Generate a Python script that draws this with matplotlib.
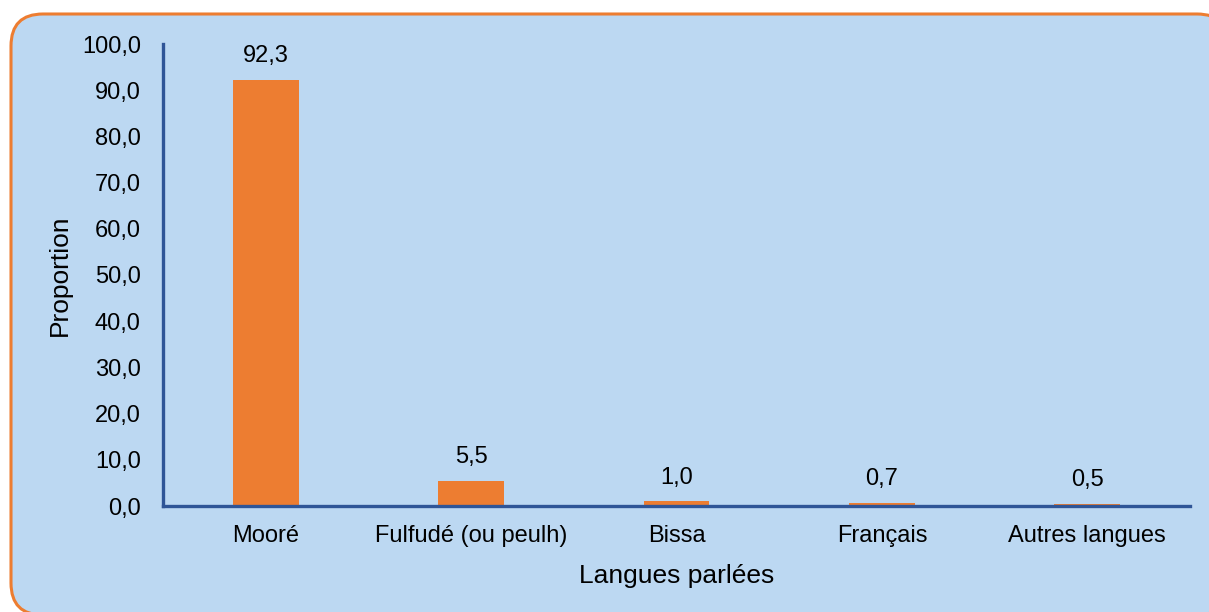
import matplotlib.pyplot as plt
from matplotlib.patches import FancyBboxPatch
from matplotlib.ticker import FuncFormatter

# Data
langues = ['Mooré', 'Fulfudé (ou peulh)', 'Bissa', 'Français', 'Autres langues']
proportions = [92.3, 5.5, 1.0, 0.7, 0.5]

plt.rcParams['font.family'] = ['Liberation Sans', 'DejaVu Sans']

W, H = 1209, 612
fig = plt.figure(figsize=(W / 100, H / 100), dpi=100)
fig.patch.set_facecolor('white')

# rounded light-blue panel with orange border (runs off the right and bottom edges), pixel coords
box = FancyBboxPatch((11, -3), 1229 - 11, 598 + 3,
                     boxstyle='round,pad=0,rounding_size=32',
                     transform=None, facecolor='#BCD8F2',
                     edgecolor='#ED7D31', linewidth=2.2, zorder=-5)
fig.add_artist(box)

ax = fig.add_axes([163 / W, 1 - 506 / H, (1190 - 163) / W, (506 - 44) / H])
ax.patch.set_alpha(0)

x = range(len(langues))
bars = ax.bar(x, proportions, width=0.32, color='#ED7D31', zorder=2)

for b, v in zip(bars, proportions):
    ax.annotate(f'{v:.1f}'.replace('.', ','), (b.get_x() + b.get_width() / 2, v),
                xytext=(0, 9), textcoords='offset points', ha='center', va='bottom',
                fontsize=17)

ax.set_xlim(-0.5, 4.5)
ax.set_ylim(0, 100)
ax.set_yticks(range(0, 101, 10))
ax.yaxis.set_major_formatter(FuncFormatter(lambda v, p: f'{v:.1f}'.replace('.', ',')))
ax.set_xticks(list(x))
ax.set_xticklabels(langues)
ax.tick_params(axis='both', length=0, labelsize=17)
ax.tick_params(axis='y', pad=16)
ax.tick_params(axis='x', pad=14)

for s in ['top', 'right']:
    ax.spines[s].set_visible(False)
for s in ['left', 'bottom']:
    ax.spines[s].set_color('#2F5597')
    ax.spines[s].set_linewidth(2.4)
    ax.spines[s].set_zorder(3)

ax.set_xlabel('Langues parlées', fontsize=19, labelpad=12)
ax.set_ylabel('Proportion', fontsize=19, labelpad=7)

plt.savefig('out.png', dpi=100)
